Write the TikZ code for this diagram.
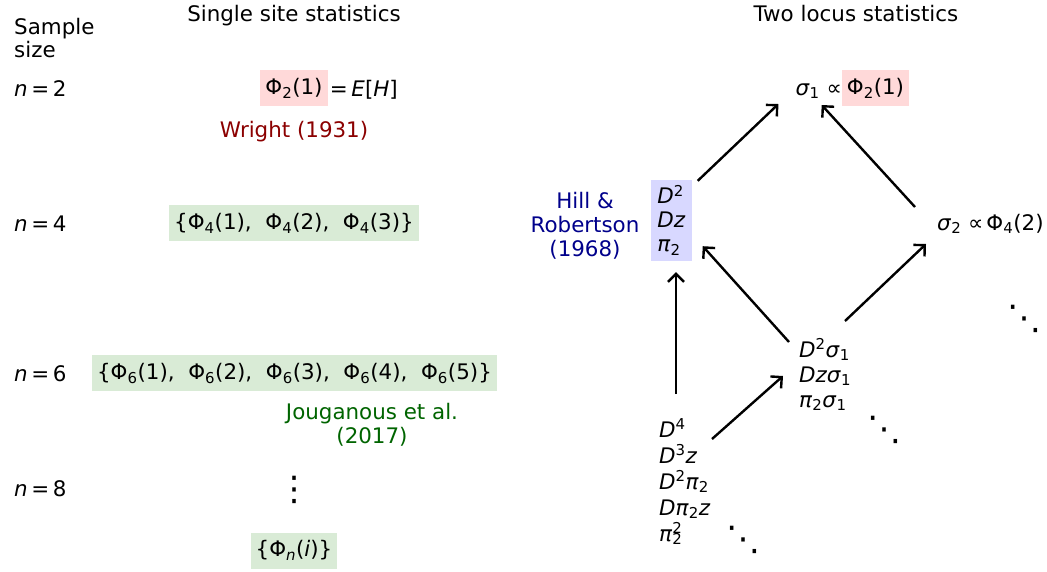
\documentclass[tikz,border=0pt]{standalone}
\usepackage{fontspec}
\setmainfont{DejaVu Sans}
\usepackage{tikz}
\usetikzlibrary{arrows.meta,calc}
\definecolor{pinkfill}{RGB}{255,217,217}
\definecolor{greenfill}{RGB}{217,235,214}
\definecolor{bluefill}{RGB}{216,216,255}
\definecolor{wrightred}{RGB}{139,0,0}
\definecolor{hillblue}{RGB}{0,0,139}
\definecolor{jougreen}{RGB}{0,100,0}
\newcommand{\ivar}[1]{\textit{#1}}
\tikzset{
	lbl/.style={inner sep=0pt},
	pinkbox/.style={fill=pinkfill, inner xsep=5pt, inner ysep=0pt, minimum height=36pt},
	greenbox/.style={fill=greenfill, inner xsep=5pt, inner ysep=0pt, minimum height=36pt},
	bluebox/.style={fill=bluefill, inner xsep=6pt, inner ysep=0pt, minimum height=81pt, align=left},
	dotsbox/.style={inner sep=0pt, font=\fontsize{34}{34}\selectfont},
	arr/.style={->, line width=2.4pt},
}

\begin{document}
\begin{tikzpicture}[x=1pt,y=-1pt,>={Straight Barb[length=8pt,width=16pt]},font=\fontsize{21.4}{24.5}\selectfont]
	\useasboundingbox (0,0) rectangle (1047,571);
	%Titles
	\node[lbl,anchor=base] (single) at (294,21) {Single site statistics};
	\node[lbl,anchor=base] (twoloc) at (856,21) {Two locus statistics};
	\node[lbl,anchor=base west,align=left,font=\fontsize{21.4}{22.5}\selectfont] (ssize) at (14,57) {Sample\\size};
	%Sample sizes
	\node[lbl,anchor=base west] (ntwo) at (14,96) {\ivar{n}\,=\,2};
	\node[lbl,anchor=base west] (nfour) at (14,231) {\ivar{n}\,=\,4};
	\node[lbl,anchor=base west] (nsix) at (14,381) {\ivar{n}\,=\,6};
	\node[lbl,anchor=base west] (neight) at (14,496) {\ivar{n}\,=\,8};
	%Single site
	\node[pinkbox] (phitwo) at (294,88) {Φ\textsubscript{2}(1)};
	\node[lbl,anchor=base west] (eh) at ($(phitwo.east |- ntwo.base)+(2,0)$) {=\,\ivar{E}[\ivar{H}]};
	\node[lbl,anchor=base,text=wrightred] (wright) at (294,137) {Wright (1931)};
	\node[greenbox] (phifour) at (294,223) {\{Φ\textsubscript{4}(1),\ \ Φ\textsubscript{4}(2),\ \ Φ\textsubscript{4}(3)\}};
	\node[greenbox] (phisix) at (294.5,373) {\{Φ\textsubscript{6}(1),\ \ Φ\textsubscript{6}(2),\ \ Φ\textsubscript{6}(3),\ \ Φ\textsubscript{6}(4),\ \ Φ\textsubscript{6}(5)\}};
	\node[lbl,anchor=base,align=center,text=jougreen,font=\fontsize{21.4}{23.5}\selectfont] (joug) at (372,443) {Jouganous et al.\\(2017)};
	\node[dotsbox] (vdots) at (294,490) {⋮};
	\node[greenbox] (phin) at (294,550.5) {\{Φ\textsubscript{\ivar{n}}(\ivar{i})\}};
	%Two locus
	\node[pinkbox] (phione) at (875.5,88) {Φ\textsubscript{2}(1)};
	\node[lbl,anchor=base east] (sone) at (842,95) {\ivar{σ}\textsubscript{1}\ ∝};
	\node[lbl,anchor=base,align=center,text=hillblue,font=\fontsize{21.4}{24}\selectfont] (hill) at (585,256) {Hill \&\\Robertson\\(1968)};
	\node[bluebox,font=\fontsize{21.4}{24}\selectfont] (hbox) at (671.5,220.5) {\ivar{D}\textsuperscript{2}\\\ivar{Dz}\\\ivar{π}\textsubscript{2}};
	\node[lbl,anchor=base west] (stwo) at (937,230) {\ivar{σ}\textsubscript{2}\ ∝\kern3ptΦ\textsubscript{4}(2)};
	\node[lbl,anchor=base west,align=left,font=\fontsize{21.4}{25}\selectfont] (dsig) at (799,407) {\ivar{D}\textsuperscript{2}\ivar{σ}\textsubscript{1}\\\ivar{Dzσ}\textsubscript{1}\\\ivar{π}\textsubscript{2}\ivar{σ}\textsubscript{1}};
	\node[lbl,anchor=base west,align=left,font=\fontsize{21.4}{26}\selectfont] (dfour) at (659,541) {\ivar{D}\textsuperscript{4}\\\ivar{D}\textsuperscript{3}\ivar{z}\\\ivar{D}\textsuperscript{2}\ivar{π}\textsubscript{2}\\\ivar{Dπ}\textsubscript{2}\ivar{z}\\\ivar{π}\rlap{\textsuperscript{2}}\textsubscript{2}};
	%Dots
	\node[dotsbox] (ddotsa) at (1024,319) {⋱};
	\node[dotsbox] (ddotsb) at (884,430) {⋱};
	\node[dotsbox] (ddotsc) at (743,540) {⋱};
	%Arrows
	\draw[arr] ($(hbox.north east)+(6,1)$) -- ($(sone.base west)+(-17,9)$);
	\draw[arr] ($(stwo.base west)+(-22,-23)$) -- ($(sone.base)+(3,10)$);
	\draw[arr] ($(dsig.base west)+(46,-86)$) -- ($(stwo.base west)+(-11,14)$);
	\draw[arr] ($(dsig.base west)+(-10,-65)$) -- ($(hbox.south east)+(11,-15)$);
	\draw[arr] ($(dfour.base west)+(17,-147)$) -- ($(hbox.south)+(4.5,11)$);
	\draw[arr] ($(dfour.base west)+(53,-102)$) -- ($(dsig.base west)+(-16,-31)$);
\end{tikzpicture}
\end{document}
